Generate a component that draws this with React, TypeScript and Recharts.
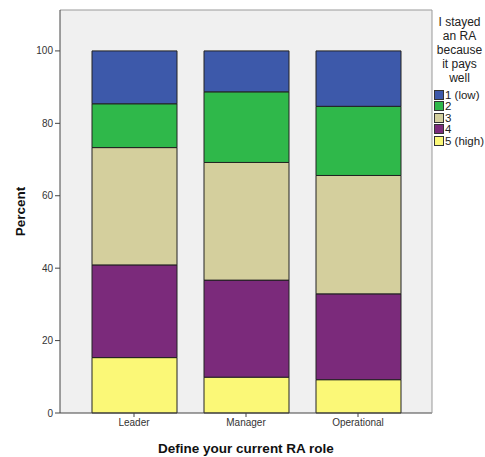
import { BarChart, Bar, XAxis, YAxis, CartesianGrid, Legend } from "recharts";

const roles = ["Leader", "Manager", "Operational"];
const low1 = [14.6, 11.3, 15.3];
const two = [12.1, 19.5, 19.1];
const three = [32.4, 32.5, 32.7];
const four = [25.6, 26.8, 23.7];
const high5 = [15.3, 9.9, 9.2];
const yTicks = [0, 20, 40, 60, 80, 100];
const legendTitle = ["I stayed", "an RA", "because", "it pays", "well"];

// bottom to top
const SERIES = [
  { key: "high5", name: "5 (high)", color: "#fbf877", values: high5 },
  { key: "four", name: "4", color: "#7b2a7b", values: four },
  { key: "three", name: "3", color: "#d4cf9d", values: three },
  { key: "two", name: "2", color: "#2fb84a", values: two },
  { key: "low1", name: "1 (low)", color: "#3d59aa", values: low1 },
];

const data = roles.map((role, i) => {
  const row: Record<string, any> = { role };
  SERIES.forEach((s) => (row[s.key] = s.values[i]));
  return row;
});

const FONT = "'Liberation Sans', Arial, sans-serif";

const renderLegend = () => (
  <div style={{ fontFamily: FONT, color: "#222", whiteSpace: "nowrap" }}>
    <div style={{ textAlign: "center", marginBottom: 4, fontSize: 12, lineHeight: "14px" }}>
      {legendTitle.map((t) => (
        <div key={t}>{t}</div>
      ))}
    </div>
    {[...SERIES].reverse().map((s) => (
      <div key={s.key} style={{ display: "flex", alignItems: "center", height: 11.5, fontSize: 11.5 }}>
        <span
          style={{
            width: 8,
            height: 8,
            background: s.color,
            border: "1px solid #333",
            marginRight: 1,
            flexShrink: 0,
          }}
        />
        <span>{s.name}</span>
      </div>
    ))}
  </div>
);

export default function App() {
  return (
    <div style={{ position: "absolute", left: 0, top: 0, width: 485, height: 457, background: "#fff" }}>
      <BarChart
        width={485}
        height={457}
        data={data}
        margin={{ top: 9, right: 52, bottom: 0, left: 0 }}
        barSize={85}
      >
        <CartesianGrid fill="#f0f0f0" horizontal={false} vertical={false} />
        <XAxis
          dataKey="role"
          height={44}
          padding={{ left: 18, right: 18 }}
          axisLine={{ stroke: "#444" }}
          tickLine={{ stroke: "#444" }}
          tickSize={4}
          tick={{ fontSize: 10, fill: "#333", fontFamily: FONT }}
          label={{
            value: "Define your current RA role",
            position: "insideBottom",
            offset: 4,
            style: { fontSize: 13.5, fontWeight: "bold", fill: "#111", fontFamily: FONT },
          }}
        />
        <XAxis
          xAxisId="top"
          orientation="top"
          dataKey="role"
          height={1}
          tick={false}
          tickLine={false}
          axisLine={{ stroke: "#999" }}
        />
        <YAxis
          width={60}
          domain={[0, 111.3]}
          ticks={yTicks}
          axisLine={{ stroke: "#444" }}
          tickLine={{ stroke: "#444" }}
          tickSize={5}
          tick={{ fontSize: 10, fill: "#333", fontFamily: FONT }}
          label={{
            value: "Percent",
            angle: -90,
            position: "insideLeft",
            offset: 20,
            style: { fontSize: 13.5, fontWeight: "bold", fill: "#111", fontFamily: FONT, textAnchor: "middle" },
          }}
        />
        <YAxis
          yAxisId="right"
          orientation="right"
          width={1}
          tick={false}
          tickLine={false}
          axisLine={{ stroke: "#999" }}
        />
        <Legend
          layout="horizontal"
          align="center"
          verticalAlign="middle"
          content={renderLegend}
          wrapperStyle={{ position: "absolute", left: 434, top: 15, width: 51 }}
        />
        {SERIES.map((s) => (
          <Bar
            key={s.key}
            dataKey={s.key}
            name={s.name}
            stackId="a"
            fill={s.color}
            stroke="#222"
            strokeWidth={1}
            isAnimationActive={false}
          />
        ))}
      </BarChart>
    </div>
  );
}
